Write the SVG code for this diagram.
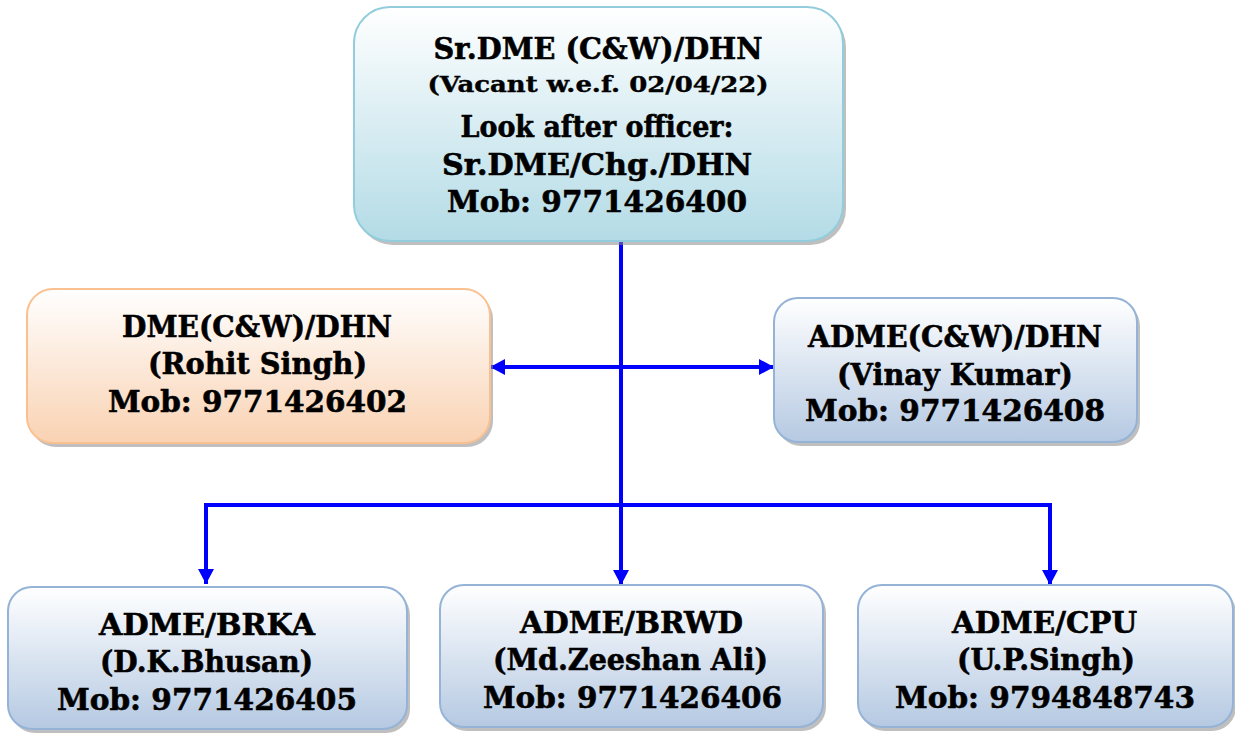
<svg xmlns="http://www.w3.org/2000/svg" width="1235" height="735" viewBox="0 0 1235 735">
<style>
.t{font-family:"DejaVu Serif","Liberation Serif",serif;font-weight:bold;fill:#000;stroke:#000;stroke-width:0.6;text-anchor:middle;font-size:30px}
.s{font-size:22px;stroke-width:0.4}
.conn{fill:none;stroke:#0000ff;stroke-width:4}
.sh{fill:#8a8a8a;opacity:0.55}
</style>
<defs>
<linearGradient id="gTeal" x1="0" y1="0" x2="0" y2="1"><stop offset="0" stop-color="#ffffff"/><stop offset="1" stop-color="#b3dbe6"/></linearGradient>
<linearGradient id="gPeach" x1="0" y1="0" x2="0" y2="1"><stop offset="0" stop-color="#ffffff"/><stop offset="1" stop-color="#f9d2b2"/></linearGradient>
<linearGradient id="gBlue" x1="0" y1="0" x2="0" y2="1"><stop offset="0" stop-color="#ffffff"/><stop offset="1" stop-color="#b5c9e2"/></linearGradient>
<marker id="arr" viewBox="0 0 15 16" refX="15" refY="8" markerWidth="15" markerHeight="16" markerUnits="userSpaceOnUse" orient="auto-start-reverse"><path d="M0,0 L15,8 L0,16 z" fill="#0000ff"/></marker>
</defs>

<g id="connectors">
<path class="conn" d="M621,240 V585" marker-end="url(#arr)"/>
<path class="conn" d="M490,367 H774" marker-start="url(#arr)" marker-end="url(#arr)"/>
<path class="conn" d="M206,584 V505 H1050 V585" marker-start="url(#arr)" marker-end="url(#arr)"/>
</g>

<g id="node-srdme">
<rect class="sh" x="357" y="11" width="489" height="234" rx="36"/>
<rect x="354" y="7" width="489" height="234" rx="36" fill="url(#gTeal)" stroke="#93cddd" stroke-width="2"/>
<text class="t" x="598" y="59" textLength="329" lengthAdjust="spacingAndGlyphs">Sr.DME (C&amp;W)/DHN</text>
<text class="t s" x="598" y="92" textLength="341" lengthAdjust="spacingAndGlyphs">(Vacant w.e.f. 02/04/22)</text>
<text class="t" x="597" y="137" textLength="273" lengthAdjust="spacingAndGlyphs">Look after officer:</text>
<text class="t" x="597" y="175" textLength="310" lengthAdjust="spacingAndGlyphs">Sr.DME/Chg./DHN</text>
<text class="t" x="597" y="212" textLength="300" lengthAdjust="spacingAndGlyphs">Mob: 9771426400</text>
</g>

<g id="node-dme">
<rect class="sh" x="30" y="293" width="463" height="154" rx="26"/>
<rect x="27" y="289" width="463" height="154" rx="26" fill="url(#gPeach)" stroke="#fac08f" stroke-width="2"/>
<text class="t" x="257" y="337" textLength="270" lengthAdjust="spacingAndGlyphs">DME(C&amp;W)/DHN</text>
<text class="t" x="257.5" y="374" textLength="219" lengthAdjust="spacingAndGlyphs">(Rohit Singh)</text>
<text class="t" x="257.5" y="412" textLength="299" lengthAdjust="spacingAndGlyphs">Mob: 9771426402</text>
</g>

<g id="node-adme-cw">
<rect class="sh" x="777" y="302" width="363" height="144" rx="24"/>
<rect x="774" y="298" width="363" height="144" rx="24" fill="url(#gBlue)" stroke="#95b3d7" stroke-width="2"/>
<text class="t" x="955" y="347" textLength="294" lengthAdjust="spacingAndGlyphs">ADME(C&amp;W)/DHN</text>
<text class="t" x="955" y="385" textLength="236" lengthAdjust="spacingAndGlyphs">(Vinay Kumar)</text>
<text class="t" x="955" y="421" textLength="300" lengthAdjust="spacingAndGlyphs">Mob: 9771426408</text>
</g>

<g id="node-brka">
<rect class="sh" x="11" y="591" width="399" height="142" rx="24"/>
<rect x="8" y="587" width="399" height="142" rx="24" fill="url(#gBlue)" stroke="#95b3d7" stroke-width="2"/>
<text class="t" x="207" y="635" textLength="216" lengthAdjust="spacingAndGlyphs">ADME/BRKA</text>
<text class="t" x="206.5" y="672" textLength="213" lengthAdjust="spacingAndGlyphs">(D.K.Bhusan)</text>
<text class="t" x="207" y="710" textLength="300" lengthAdjust="spacingAndGlyphs">Mob: 9771426405</text>
</g>

<g id="node-brwd">
<rect class="sh" x="443" y="589" width="383" height="142" rx="24"/>
<rect x="440" y="585" width="383" height="142" rx="24" fill="url(#gBlue)" stroke="#95b3d7" stroke-width="2"/>
<text class="t" x="631.5" y="633" textLength="223" lengthAdjust="spacingAndGlyphs">ADME/BRWD</text>
<text class="t" x="630.5" y="670" textLength="275" lengthAdjust="spacingAndGlyphs">(Md.Zeeshan Ali)</text>
<text class="t" x="632.5" y="708" textLength="299" lengthAdjust="spacingAndGlyphs">Mob: 9771426406</text>
</g>

<g id="node-cpu">
<rect class="sh" x="861" y="589" width="375" height="142" rx="24"/>
<rect x="858" y="585" width="375" height="142" rx="24" fill="url(#gBlue)" stroke="#95b3d7" stroke-width="2"/>
<text class="t" x="1044.5" y="633" textLength="185" lengthAdjust="spacingAndGlyphs">ADME/CPU</text>
<text class="t" x="1046" y="670" textLength="178" lengthAdjust="spacingAndGlyphs">(U.P.Singh)</text>
<text class="t" x="1045" y="708" textLength="300" lengthAdjust="spacingAndGlyphs">Mob: 9794848743</text>
</g>
</svg>
